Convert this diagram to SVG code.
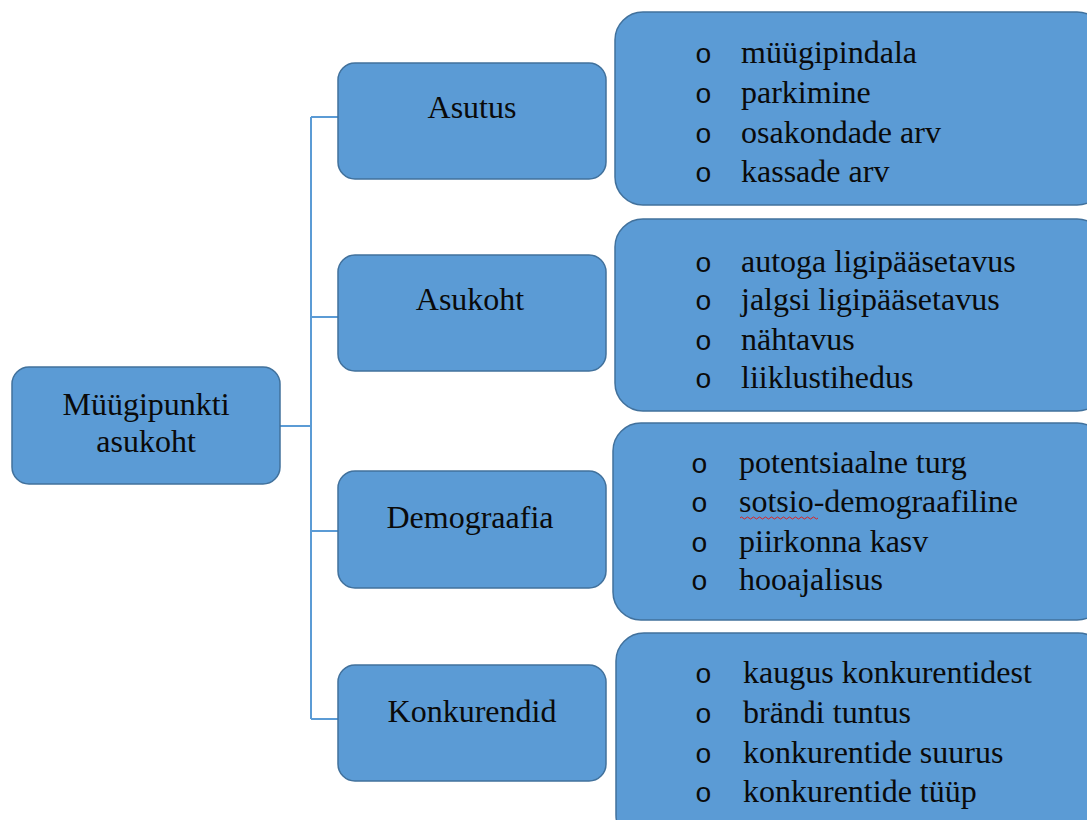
<svg xmlns="http://www.w3.org/2000/svg" width="1087" height="820" viewBox="0 0 1087 820">
<style>
.box{fill:#5B9BD5;stroke:#41719C;stroke-width:1.5}
.t{font-family:"Liberation Serif","Times New Roman",serif;font-size:32px;fill:#0a0a0a}
.c{text-anchor:middle}
.b{font-family:"Liberation Mono","Courier New",monospace;font-size:28px;fill:#0a0a0a}
.ln{stroke:#5B9BD5;stroke-width:2;fill:none}
</style>
<rect width="1087" height="820" fill="#fff"/>
<g id="connectors">
<path class="ln" d="M280 426H311" stroke-width="3.5"/>
<path class="ln" d="M311 117V719"/>
<path class="ln" d="M311 117H338M311 317H338M311 531H338M311 719H338"/>
</g>
<g id="root">
<rect class="box" x="12" y="367" width="268" height="117" rx="17"/>
<text class="t c" x="146" y="415">Müügipunkti</text>
<text class="t c" x="146" y="452">asukoht</text>
</g>
<g id="asutus">
<rect class="box" x="338" y="63" width="268" height="116" rx="17"/>
<text class="t c" x="472" y="118">Asutus</text>
</g>
<g id="asukoht">
<rect class="box" x="338" y="255" width="268" height="116" rx="17"/>
<text class="t c" x="470" y="310">Asukoht</text>
</g>
<g id="demograafia">
<rect class="box" x="338" y="471" width="268" height="117" rx="17"/>
<text class="t c" x="470" y="528">Demograafia</text>
</g>
<g id="konkurendid">
<rect class="box" x="338" y="665" width="268" height="116" rx="17"/>
<text class="t c" x="472" y="722">Konkurendid</text>
</g>
<g id="asutus-items">
<rect class="box" x="615" y="12" width="490" height="193" rx="28"/>
<text class="b" x="695" y="63">o</text><text class="t" x="741" y="63">müügipindala</text>
<text class="b" x="695" y="103">o</text><text class="t" x="741" y="103">parkimine</text>
<text class="b" x="695" y="143">o</text><text class="t" x="741" y="143">osakondade arv</text>
<text class="b" x="695" y="182">o</text><text class="t" x="741" y="182">kassade arv</text>
</g>
<g id="asukoht-items">
<rect class="box" x="615" y="219" width="490" height="192" rx="28"/>
<text class="b" x="695" y="272">o</text><text class="t" x="741" y="272">autoga ligipääsetavus</text>
<text class="b" x="695" y="310">o</text><text class="t" x="741" y="310">jalgsi ligipääsetavus</text>
<text class="b" x="695" y="350">o</text><text class="t" x="741" y="350">nähtavus</text>
<text class="b" x="695" y="388">o</text><text class="t" x="741" y="388">liiklustihedus</text>
</g>
<g id="demograafia-items">
<rect class="box" x="613" y="423" width="492" height="197" rx="28"/>
<text class="b" x="691" y="473">o</text><text class="t" x="739" y="473">potentsiaalne turg</text>
<text class="b" x="691" y="512">o</text><text class="t" x="739" y="512">sotsio-demograafiline</text>
<path d="M740 518q1.5-2 3 0t3 0t3 0t3 0t3 0t3 0t3 0t3 0t3 0t3 0t3 0t3 0t3 0t3 0t3 0t3 0t3 0t3 0t3 0t3 0t3 0t3 0t3 0t3 0t3 0t3 0" fill="none" stroke="#E02020" stroke-width="1"/>
<text class="b" x="691" y="552">o</text><text class="t" x="739" y="552">piirkonna kasv</text>
<text class="b" x="691" y="590">o</text><text class="t" x="739" y="590">hooajalisus</text>
</g>
<g id="konkurendid-items">
<rect class="box" x="616" y="633" width="490" height="210" rx="28"/>
<text class="b" x="695" y="683">o</text><text class="t" x="743" y="683">kaugus konkurentidest</text>
<text class="b" x="695" y="723">o</text><text class="t" x="743" y="723">brändi tuntus</text>
<text class="b" x="695" y="763">o</text><text class="t" x="743" y="763">konkurentide suurus</text>
<text class="b" x="695" y="802">o</text><text class="t" x="743" y="802">konkurentide tüüp</text>
</g>
</svg>
